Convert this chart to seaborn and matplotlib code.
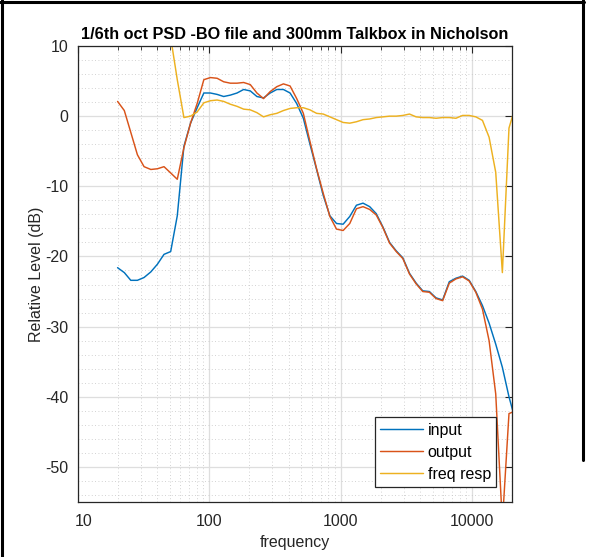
import numpy as np
import pandas as pd
import matplotlib
matplotlib.use("Agg")
import matplotlib.pyplot as plt
import matplotlib.transforms as mtransforms
from matplotlib.lines import Line2D
from matplotlib.ticker import FixedLocator, NullFormatter, FixedFormatter
import seaborn as sns

# band centre frequencies (Hz)
freqs = [20.0, 22.5, 25.2, 28.3, 31.8, 35.8, 40.2, 45.1, 50.7, 56.9,
         63.9, 71.8, 80.6, 90.6, 101.7, 114.3, 128.3, 144.1, 162.0, 181.9,
         204.3, 229.5, 257.7, 289.5, 325.1, 365.2, 410.2, 460.7, 517.5, 581.2,
         652.8, 733.3, 823.6, 925.1, 1039, 1167, 1311, 1472, 1654, 1857,
         2086, 2344, 2632, 2957, 3321, 3730, 4190, 4706, 5286, 5937,
         6668, 7490, 8412, 9449, 10612, 11920, 13390, 15040, 16894, 18970,
         21310]

input_db = [-21.6, -22.3, -23.4, -23.4, -23.0, -22.2, -21.1, -19.7, -19.3, -14.2,
            -4.3, -1.0, 1.2, 3.3, 3.3, 3.1, 2.8, 3.0, 3.3, 3.8,
            3.6, 2.8, 2.6, 3.3, 3.8, 3.8, 3.3, 1.8, -0.3, -4.0,
            -7.6, -11.3, -14.2, -15.3, -15.4, -14.3, -12.7, -12.4, -12.9, -13.9,
            -15.8, -18.0, -19.2, -20.2, -22.4, -23.8, -24.9, -25.0, -25.9, -26.2,
            -23.6, -23.1, -22.8, -23.4, -25.0, -27.0, -29.5, -32.5, -35.8, -40.0,
            -43.5]

output_db = [2.1, 0.8, -2.3, -5.5, -7.2, -7.6, -7.5, -7.2, -8.1, -9.0,
             -4.5, -1.0, 1.8, 5.2, 5.5, 5.4, 4.9, 4.7, 4.7, 4.8,
             4.5, 3.3, 2.5, 3.5, 4.2, 4.6, 4.3, 2.5, 0.4, -3.6,
             -7.5, -11.0, -14.3, -16.1, -16.3, -15.3, -13.2, -12.9, -13.3, -14.1,
             -15.9, -18.1, -19.3, -20.3, -22.5, -23.9, -25.0, -25.1, -26.0, -26.3,
             -23.8, -23.2, -22.9, -23.5, -25.1, -27.5, -32.0, -39.6, -58.0, -42.4,
             -42.0]

freqresp_db = [23.7, 23.1, 21.1, 17.9, 15.8, 14.6, 13.6, 12.5, 11.2, 5.2,
               -0.2, 0.0, 0.6, 1.9, 2.2, 2.3, 2.1, 1.7, 1.4, 1.0,
               0.9, 0.5, -0.1, 0.2, 0.4, 0.8, 1.1, 1.2, 1.2, 0.9,
               0.4, 0.3, -0.1, -0.5, -0.9, -1.0, -0.8, -0.5, -0.4, -0.2,
               -0.1, 0.0, 0.0, 0.1, 0.3, -0.1, -0.2, -0.2, -0.3, -0.2,
               -0.2, -0.3, 0.1, 0.1, -0.1, -0.6, -3.0, -8.0, -22.3, -1.7,
               1.5]

series_names = ["input", "output", "freq resp"]
series_colors = ["#0072BD", "#D95319", "#EDB120"]

x_ticks = [10, 100, 1000, 10000]
x_ticklabels = ["10", "100", "1000", "10000"]
y_ticks = [-50, -40, -30, -20, -10, 0, 10]

title_text = "1/6th oct PSD -BO file and 300mm Talkbox in Nicholson"
x_label = "frequency"
y_label = "Relative Level (dB)"

df = pd.DataFrame({
    "freq": freqs * 3,
    "level": input_db + output_db + freqresp_db,
    "series": sum([[n] * len(freqs) for n in series_names], []),
})

sns.set_theme(style="white")
plt.rcParams["font.family"] = ["Liberation Sans", "DejaVu Sans"]
plt.rcParams["axes.unicode_minus"] = False

W, H = 591, 557
fig = plt.figure(figsize=(W / 100, H / 100), dpi=100)
ax = fig.add_axes([78 / W, 1 - 502 / H, (512 - 78) / W, (502 - 46) / H])

sns.lineplot(data=df, x="freq", y="level", hue="series", hue_order=series_names,
             palette=series_colors, ax=ax, linewidth=1.05, legend=False,
             estimator=None, sort=False)

ax.set_xscale("log")
ax.set_xlim(10, 20000)
ax.set_ylim(-55, 10)

dark = "#262626"
ax.xaxis.set_major_locator(FixedLocator(x_ticks))
ax.xaxis.set_major_formatter(FixedFormatter(x_ticklabels))
minor = [m * d for d in [10, 100, 1000, 10000] for m in range(2, 10) if m * d <= 20000]
ax.xaxis.set_minor_locator(FixedLocator(minor))
ax.xaxis.set_minor_formatter(NullFormatter())
ax.yaxis.set_major_locator(FixedLocator(y_ticks))
ax.yaxis.set_minor_locator(FixedLocator(list(range(-54, 10, 2))))

ax.grid(True, which="major", color="#dedede", linewidth=0.9, linestyle="-")
ax.grid(True, which="minor", color="#c4c4c4", linewidth=0.6, linestyle=(0, (1, 3)))
ax.set_axisbelow(True)

for s in ax.spines.values():
    s.set_visible(True)
    s.set_color(dark)
    s.set_linewidth(0.9)

ax.tick_params(axis="both", which="both", direction="in", top=True, right=True,
               colors=dark, labelcolor=dark, labelsize=11.5)
ax.tick_params(axis="both", which="major", length=5, width=0.8)
ax.tick_params(axis="x", which="major", pad=9)
ax.tick_params(axis="y", which="major", pad=7)
ax.tick_params(axis="x", which="minor", length=3, width=0.6)
ax.tick_params(axis="y", which="minor", length=0)

# first x tick label sits a little right of the axis corner, as in the reference
lbl0 = ax.get_xticklabels()[0]
lbl0.set_transform(lbl0.get_transform() + mtransforms.ScaledTranslation(6 / 100, 0, fig.dpi_scale_trans))

ax.set_title(title_text, fontsize=11.7, fontweight="bold", color="black", pad=5)
ax.set_xlabel(x_label, fontsize=11.5, color=dark, labelpad=4)
ax.set_ylabel(y_label, fontsize=11.5, color=dark, labelpad=1)

handles = [Line2D([0], [0], color=c, lw=1.05) for c in series_colors]
leg = ax.legend(handles, series_names, loc="lower right",
                bbox_to_anchor=(496 / W, 1 - 487 / H), bbox_transform=fig.transFigure,
                fontsize=11.5, frameon=True, fancybox=False, framealpha=1,
                edgecolor=dark, borderpad=0.32, handlelength=2.7, handletextpad=0.3,
                labelspacing=0.45, borderaxespad=0)
leg.get_frame().set_linewidth(0.9)
for t in leg.get_texts():
    t.set_color("black")

# figure border (screenshot frame)
fig.add_artist(Line2D([2 / W, 2 / W], [0, 1], transform=fig.transFigure, color="black", lw=2.2))
fig.add_artist(Line2D([0, 584 / W], [1 - 1.5 / H, 1 - 1.5 / H], transform=fig.transFigure, color="black", lw=2.2))
fig.add_artist(Line2D([583 / W, 583 / W], [1 - 460 / H, 1], transform=fig.transFigure, color="black", lw=2.2))

fig.savefig("out.png", dpi=100)
